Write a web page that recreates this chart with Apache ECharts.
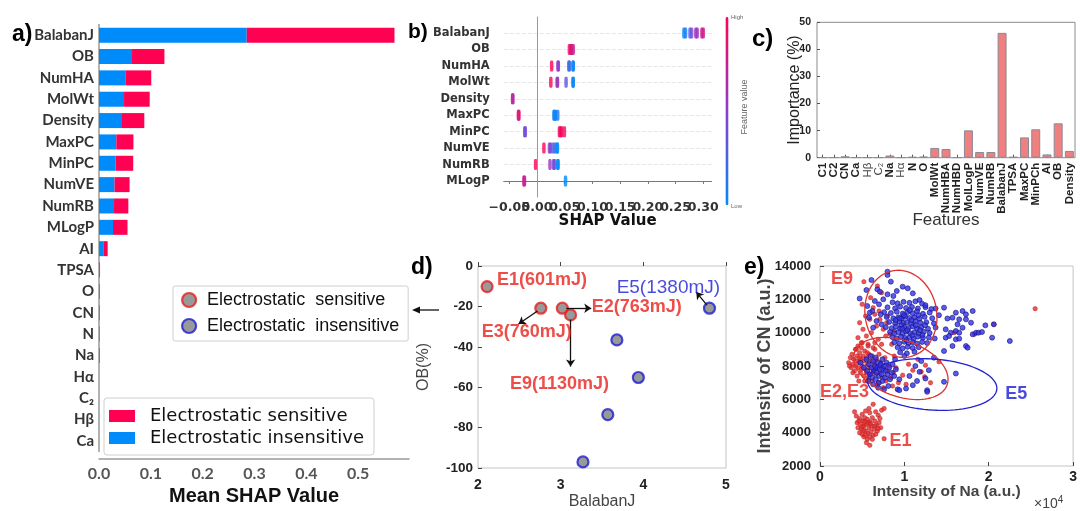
<!DOCTYPE html>
<html>
<head>
<meta charset="utf-8">
<script src="https://cdn.jsdelivr.net/npm/echarts@6/dist/echarts.min.js"></script>
<style>
  html, body { margin: 0; background: #fff; }
  #chart { width: 1080px; height: 511px; }
</style>
</head>
<body>
<div id="chart"></div>
<script>
// a) mean SHAP value, stacked by class
const aFeatures = ['BalabanJ', 'OB', 'NumHA', 'MolWt', 'Density', 'MaxPC', 'MinPC', 'NumVE', 'NumRB', 'MLogP',
  'AI', 'TPSA', 'O', 'CN', 'N', 'Na', 'Hα', 'C₂', 'Hβ', 'Ca'];
const aInsensitive = [0.285, 0.0637, 0.0508, 0.0483, 0.0444, 0.0334, 0.032, 0.030, 0.029, 0.027,
  0.0083, 0.001, 0.0012, 0.0012, 0.001, 0.0003, 0, 0, 0, 0];
const aSensitive = [0.285, 0.0625, 0.050, 0.0495, 0.043, 0.033, 0.034, 0.029, 0.0276, 0.028,
  0.0084, 0.001, 0.0003, 0.0002, 0.0002, 0.001, 0, 0, 0, 0];
const aTicks = [0, 0.1, 0.2, 0.3, 0.4, 0.5];

// b) SHAP summary, rows bottom -> top; points are [shap, row, feature value]
const bFeatures = ['MLogP', 'NumRB', 'NumVE', 'MinPC', 'MaxPC', 'Density', 'MolWt', 'NumHA', 'OB', 'BalabanJ'];
const bPoints = [
  [0.265, 9, 0.0], [0.268, 9, 0.1], [0.276, 9, 0.25], [0.279, 9, 0.4], [0.2865, 9, 0.55], [0.289, 9, 0.6], [0.2975, 9, 0.72], [0.300, 9, 0.8],
  [0.0585, 8, 0.95], [0.061, 8, 0.9], [0.063, 8, 0.85], [0.0655, 8, 0.75],
  [0.0265, 7, 1.0], [0.038, 7, 0.55], [0.0385, 7, 0.5], [0.0575, 7, 0.25], [0.0585, 7, 0.2], [0.065, 7, 0.0], [0.0655, 7, 0.05],
  [0.025, 6, 1.0], [0.0365, 6, 0.6], [0.037, 6, 0.55], [0.0525, 6, 0.35], [0.065, 6, 0.0], [0.0655, 6, 0.05],
  [-0.0435, 5, 0.6], [-0.044, 5, 0.7],
  [-0.0335, 4, 0.9], [-0.0325, 4, 0.85], [0.0305, 4, 0.1], [0.032, 4, 0.05], [0.0335, 4, 0.0], [0.0375, 4, 0.1],
  [-0.022, 3, 0.45], [-0.021, 3, 0.4], [0.0405, 3, 0.95], [0.0425, 3, 0.9], [0.0445, 3, 1.0], [0.0495, 3, 0.9],
  [0.0125, 2, 1.0], [0.0225, 2, 0.5], [0.0245, 2, 0.45], [0.029, 2, 0.3], [0.0325, 2, 0.2], [0.036, 2, 0.05], [0.037, 2, 0.0],
  [-0.0025, 1, 1.0], [0.0235, 1, 0.55], [0.030, 1, 0.45], [0.0315, 1, 0.4], [0.0375, 1, 0.05], [0.038, 1, 0.0],
  [-0.0235, 0, 0.8], [-0.0225, 0, 0.75], [0.0515, 0, 0.0]
];
const bTicks = [-0.05, 0, 0.05, 0.1, 0.15, 0.2, 0.25, 0.3];
const bTicksOdd = [-0.05, 0.05, 0.15, 0.25];
const bTicksEven = [0, 0.1, 0.2, 0.3];

// c) feature importance (%)
const cFeatures = ['C1', 'C2', 'CN', 'Ca', 'Hβ', 'C₂', 'Na', 'Hα', 'N', 'O', 'MolWt', 'NumHBA', 'NumHBD', 'MolLogP',
  'NumVE', 'NumRB', 'BalabanJ', 'TPSA', 'MaxPC', 'MinPCh', 'AI', 'OB', 'Density'];
const cImportance = [0.1, 0.1, 0.5, 0.1, 0.1, 0.1, 0.8, 0.1, 0.3, 0.4, 3.6, 3.2, 0.1, 10.1,
  2.1, 2.1, 46.1, 0.3, 7.5, 10.5, 1.2, 12.7, 2.5];

// d) OB vs BalabanJ
const dSensitive = [[2.11, -10.2], [2.76, -20.9], [3.02, -20.9], [3.12, -24.2]];
const dInsensitive = [[4.80, -20.9], [3.68, -36.6], [3.94, -55.2], [3.57, -73.6], [3.27, -97.0]];
const dNotesRed = [[2.23, -6.9, 'E1(601mJ)'], [3.375, -20.1, 'E2(763mJ)'], [2.045, -32.8, 'E3(760mJ)'], [2.387, -58.6, 'E9(1130mJ)']];
const dNotesBlue = [[3.677, -10.7, 'E5(1380mJ)']];
const dArrows = [
  [[2.72, -22.3], [2.49, -28.7]],
  [[3.07, -20.9], [3.37, -20.9]],
  [[3.12, -26.6], [3.12, -49.8]],
  [[4.77, -19.4], [4.64, -12.9]]
];

// e) CN vs Na intensity
const eRed = [
  // E1
  [4100, 5250], [6300, 5700], [7300, 5350], [6900, 5050], [7600, 5450], [4700, 4850], [5000, 5100], [5400, 5300], [5900, 5200],
  [4400, 4600], [4800, 4500], [5100, 4700], [5300, 4900], [5600, 4800], [5900, 4650], [6200, 4900], [6500, 4700], [6700, 4450],
  [7000, 4600], [4500, 4300], [4900, 4200], [5200, 4400], [5500, 4500], [5800, 4300], [6100, 4400], [6400, 4200], [6800, 4100],
  [7200, 4300], [4700, 4000], [5000, 3900], [5400, 4100], [5700, 3950], [6000, 4050], [6300, 3850], [6600, 3900], [5200, 3750],
  [5600, 3600], [5900, 3750], [6200, 3600], [5500, 3400], [5900, 3240], [7600, 3640], [5000, 4350], [5300, 4650], [5700, 4600],
  [6000, 4550], [4300, 5000], [6600, 5250], [7100, 4850], [5800, 5450], [4600, 4700], [5200, 4150], [6500, 4400], [6900, 4250], [5400, 3850],
  // E2, E3
  [3400, 8200], [3600, 8500], [3700, 7900], [3800, 8700], [3900, 8100], [4000, 8400], [4100, 7700], [4200, 9000], [4300, 8300],
  [4400, 8600], [4500, 7900], [4500, 9200], [4600, 8200], [4700, 8800], [4800, 7600], [4800, 8400], [4900, 9100], [5000, 8000],
  [5100, 8600], [5200, 7400], [5200, 8300], [5300, 8900], [5400, 7800], [5500, 8500], [5600, 8100], [5700, 9300], [5700, 7300],
  [5800, 8700], [5900, 7900], [6000, 8300], [6100, 7100], [6200, 8600], [6300, 7700], [6400, 8200], [6500, 9000], [6600, 7500],
  [6700, 8400], [6800, 7900], [6900, 7000], [7000, 8700], [7100, 7600], [7200, 8200], [7400, 7300], [7500, 7900], [7700, 8500],
  [7800, 7100], [8000, 7700], [8200, 8000], [8400, 7300], [8700, 7600], [9000, 7900], [4200, 8000], [4700, 8500], [5000, 9400],
  [5500, 7600], [6000, 7500], [6300, 9100], [3900, 7600], [4400, 7400], [5300, 7100], [6800, 6850], [7500, 6700], [8600, 6800],
  [5600, 8800], [4900, 7800], [6500, 8000], [5800, 8300], [3500, 8000], [4600, 7100],
  // E9
  [5200, 13060], [7300, 12400], [4700, 10600], [5100, 10200], [5500, 9800], [4900, 9400], [5900, 10800], [6500, 11100],
  [7100, 10800], [7500, 10200], [7800, 9800], [6900, 9600], [6100, 10000], [5700, 9200], [4300, 9000], [6300, 11500],
  [5400, 11000], [6700, 10400], [7900, 10600], [8300, 9900], [5000, 11700], [6000, 12100], [7000, 11300], [8000, 11000],
  [7300, 9300], [4500, 9700], [6500, 9400], [8500, 9300], [8800, 10100], [6800, 12800],
  // scattered
  [12000, 7650], [11000, 7750], [12500, 8050], [12400, 7350], [9800, 7450], [10500, 8100], [13100, 7000], [14100, 8250],
  [9300, 7000], [11600, 8400], [10200, 6900], [8800, 8600], [15900, 10000], [18300, 9900], [20600, 10500], [25500, 11440]
];
const eBlue = [
  // main cluster
  [8600, 11820], [9200, 11760], [9900, 11850], [10600, 11790], [11300, 11880], [12100, 11740],
  [8000, 11520], [8900, 11460], [9500, 11560], [10200, 11480], [10900, 11540], [11600, 11450], [12500, 11530], [13200, 11420],
  [7600, 11230], [8400, 11180], [9100, 11260], [9800, 11150], [10400, 11240], [11000, 11170], [11500, 11280], [12200, 11130], [13000, 11210],
  [7900, 10940], [8700, 10860], [9300, 10920], [9700, 10850], [10100, 10960], [10600, 10880], [11200, 10910], [11800, 10840], [12400, 10950], [13300, 10870],
  [8200, 10640], [8900, 10570], [9400, 10660], [9900, 10580], [10300, 10620], [10800, 10550], [11300, 10680], [11900, 10590], [12600, 10630], [13500, 10560],
  [7800, 10330], [8500, 10270], [9000, 10360], [9500, 10250], [10000, 10340], [10500, 10280], [11000, 10370], [11500, 10260], [12000, 10330], [12800, 10240], [13700, 10310],
  [8300, 10040], [8800, 9960], [9300, 10030], [9800, 9950], [10200, 10060], [10700, 9970], [11200, 10020], [11700, 9940], [12300, 10050], [13000, 9980],
  [8600, 9730], [9100, 9660], [9600, 9750], [10100, 9680], [10600, 9720], [11100, 9640], [11600, 9760], [12200, 9690], [12900, 9710], [13600, 9650],
  [8800, 9420], [9400, 9360], [10000, 9450], [10500, 9370], [11000, 9430], [11500, 9350], [12100, 9440], [12700, 9380],
  [9200, 9120], [9800, 9060], [10400, 9150], [11000, 9080], [11700, 9130], [9500, 8820], [10300, 8760], [11200, 8850],
  [9650, 10450], [10350, 10150], [10850, 10750], [11350, 10450], [9950, 11050], [10650, 11350], [11850, 10150], [12450, 10450],
  [9450, 10850], [10950, 9850], [8950, 10750], [11650, 11050], [12150, 9850], [10250, 9550], [9750, 10250],
  // upper left inside E9 ellipse
  [6500, 11900], [7000, 11700], [5600, 11600], [6200, 11300], [7200, 11100], [5800, 10900], [6700, 10700], [7500, 12000],
  [8700, 12200], [6800, 12600], [7300, 10500], [6300, 10300], [5900, 11200],
  // upper scatter
  [8000, 13660], [8000, 13460], [6100, 13160], [8400, 13060], [9800, 12760], [5500, 12560], [7100, 12460], [10400, 12660],
  [11000, 12360], [4700, 12050], [11800, 11960], [12500, 11650], [13700, 11450], [14100, 11050], [15100, 10850], [9100, 12500], [8000, 12300],
  // right scatter
  [14700, 11500], [15700, 10900], [16100, 11200], [16900, 11300], [17300, 11100], [18100, 11300], [16500, 10800], [17300, 10800],
  [17900, 10600], [16300, 10500], [16900, 10300], [15500, 10000], [16100, 10100], [16500, 10000], [14900, 10200], [14900, 9700],
  [15300, 9800], [16100, 9600], [16500, 9640], [18100, 9900], [18500, 10000], [18800, 10000], [19200, 10040], [19600, 10440],
  [20600, 10500], [20400, 9700], [22500, 9500], [17300, 9200], [17500, 9100], [15700, 9200], [14700, 8900],
  // lower cluster (with E2, E3)
  [4800, 8200], [5200, 7900], [5500, 8400], [5600, 7700], [5800, 8100], [5900, 7500], [6000, 8600], [6100, 7900], [6200, 7300],
  [6300, 8300], [6400, 7700], [6500, 8000], [6600, 7200], [6600, 8500], [6700, 7600], [6800, 7900], [6900, 8200], [7000, 7400],
  [7000, 7000], [7100, 7800], [7200, 8100], [7300, 7500], [7400, 8400], [7400, 7100], [7500, 7800], [7600, 8000], [7700, 7300],
  [7800, 7700], [7900, 8200], [8000, 7500], [8100, 6800], [8200, 7900], [8300, 7200], [8500, 7600], [8600, 8100], [8800, 7400],
  [9000, 7800], [9200, 6600], [9400, 7200], [6300, 6900], [5700, 7100], [7600, 6600], [8900, 8400], [6900, 6700],
  // lower scatter
  [9400, 6550], [10200, 6650], [11000, 6850], [12700, 6550], [12700, 6450], [14700, 7050], [16100, 7550], [11800, 7650],
  [12900, 7750], [12500, 7250], [10600, 7400], [11300, 8000], [12000, 8300], [13500, 8500], [10000, 8600], [11500, 7100]
];
// [centre Na, centre CN, half width (Na), half height (CN), tilt in degrees]
const eEllipsesRed = [[9590, 11130, 4240, 2630, 11], [9590, 7850, 5810, 1680, -19.5]];
const eEllipsesBlue = [[13300, 6890, 7680, 1530, -4]];
const eNotesRed = [[1290, 13220, 'E9'], [0, 6460, 'E2,E3'], [8240, 3500, 'E1']];
const eNotesBlue = [[21960, 6300, 'E5']];
const eTicksX = [0, 10000, 20000, 30000];

const NARROW = "Lato, 'Liberation Sans', sans-serif";
const ARIAL = "'Liberation Sans', Arial, sans-serif";
const DEJAVU = "'DejaVu Sans', sans-serif";
const RED = '#ff0052';
const BLUE = '#008bfb';
const NOTE_RED = '#e8221b';
const NOTE_BLUE = '#1b1bd6';

const chart = echarts.init(document.getElementById('chart'));

function shapLabel(v) {
  if (Math.abs(v) < 1e-9) return '0.00';
  return v < 0 ? '\u2212' + Math.abs(v).toFixed(2) : v.toFixed(2);
}

// two overlapping axes so the crowded tick labels are all drawn
function shapAxis(values, withLine) {
  return {
    gridIndex: 1, type: 'value', min: -0.06, max: 0.315, position: 'bottom',
    axisLine: { show: withLine, lineStyle: { color: '#777' } },
    axisTick: { show: withLine, customValues: bTicks, length: 3, lineStyle: { color: '#777' } },
    splitLine: { show: false },
    axisLabel: { customValues: values, formatter: shapLabel, showMinLabel: true, showMaxLabel: true, hideOverlap: false,
      fontFamily: DEJAVU, fontWeight: 'bold', fontSize: 12.5, color: '#333', margin: 4 }
  };
}

function ellipseSeries(list, color) {
  return {
    type: 'custom', xAxisIndex: 4, yAxisIndex: 4, data: list, silent: true, z: 5,
    renderItem: function (params, api) {
      const c = api.coord([api.value(0), api.value(1)]);
      const s = api.size([api.value(2), api.value(3)]);
      const a = api.value(4) * Math.PI / 180;
      const pts = [];
      for (let i = 0; i <= 90; i++) {
        const t = i / 90 * Math.PI * 2;
        const x = s[0] * Math.cos(t), y = s[1] * Math.sin(t);
        pts.push([c[0] + x * Math.cos(a) + y * Math.sin(a), c[1] - x * Math.sin(a) + y * Math.cos(a)]);
      }
      return { type: 'polyline', shape: { points: pts }, style: { fill: 'none', stroke: color, lineWidth: 1.3 } };
    }
  };
}

function noteSeries(xi, list, color, weight, size) {
  return {
    type: 'scatter', xAxisIndex: xi, yAxisIndex: xi, symbolSize: 0, silent: true, clip: false, z: 6,
    data: list.map(n => ({ value: [n[0], n[1]], name: n[2] })),
    label: {
      show: true, position: 'right', distance: 0, formatter: '{b}',
      color: color, fontFamily: ARIAL, fontWeight: weight, fontSize: size
    }
  };
}

const bMain = shapAxis(bTicksOdd, true);
bMain.name = 'SHAP Value';
bMain.nameLocation = 'middle';
bMain.nameGap = 16;
bMain.nameMoveOverlap = false;
bMain.nameTextStyle = { fontFamily: DEJAVU, fontWeight: 'bold', fontSize: 15, color: '#111' };

const option = {
  animation: false,
  grid: [
    { left: 99, top: 24.5, width: 310, height: 430 },
    { left: 503.7, top: 16.6, width: 207.9, height: 180.8 },
    { left: 817, top: 22.3, width: 258, height: 135.4, show: true, borderColor: '#8a8a8a', borderWidth: 1 },
    { left: 478, top: 266, width: 248, height: 202, show: true, borderColor: '#c4c4c4', borderWidth: 1 },
    { left: 820, top: 266, width: 255, height: 200, show: true, borderColor: '#c4c4c4', borderWidth: 1 }
  ],
  xAxis: [
    {
      gridIndex: 0, type: 'value', min: 0, max: 0.598, offset: 7.5,
      axisLine: { show: true, lineStyle: { color: '#999', width: 1.5 } },
      axisTick: { show: false }, splitLine: { show: false },
      axisLabel: { customValues: aTicks, formatter: v => v.toFixed(1), fontFamily: NARROW, fontWeight: 'bold', fontSize: 16, color: '#555', margin: 7 },
      name: 'Mean SHAP Value', nameLocation: 'middle', nameGap: 27, nameMoveOverlap: false,
      nameTextStyle: { fontFamily: ARIAL, fontWeight: 'bold', fontSize: 20, color: '#111' }
    },
    bMain,
    {
      gridIndex: 2, type: 'category', data: cFeatures,
      axisLine: { show: false },
      axisTick: { show: true, inside: true, length: 3, alignWithLabel: true, lineStyle: { color: '#555' } },
      axisLabel: {
        rotate: 90, interval: 0, margin: 5, fontFamily: ARIAL, fontWeight: 'bold', fontSize: 11.5, color: '#222',
        formatter: v => (v === 'Hβ' || v === 'Hα' || v === 'C₂') ? '{g|' + v + '}' : v,
        rich: { g: { fontFamily: ARIAL, fontWeight: 'normal', fontSize: 11.5, color: '#444' } }
      },
      name: 'Features', nameLocation: 'middle', nameGap: 54, nameMoveOverlap: false,
      nameTextStyle: { fontFamily: ARIAL, fontSize: 17, color: '#333' }
    },
    {
      gridIndex: 3, type: 'value', min: 2, max: 5, interval: 1,
      axisLine: { show: false },
      axisTick: { show: true, inside: true, length: 4, lineStyle: { color: '#444' } },
      splitLine: { show: false },
      axisLabel: { fontFamily: ARIAL, fontWeight: 'bold', fontSize: 14, color: '#222', margin: 10 },
      name: 'BalabanJ', nameLocation: 'middle', nameGap: 26, nameMoveOverlap: false,
      nameTextStyle: { fontFamily: ARIAL, fontSize: 16, color: '#444' }
    },
    {
      gridIndex: 4, type: 'value', min: 0, max: 30000, interval: 10000,
      axisLine: { show: false },
      axisTick: { show: true, inside: true, length: 4, lineStyle: { color: '#444' } },
      splitLine: { show: false },
      axisLabel: { customValues: eTicksX, formatter: v => String(v / 10000), fontFamily: ARIAL, fontWeight: 'bold', fontSize: 14, color: '#222', margin: 4 },
      name: 'Intensity of Na (a.u.)', nameLocation: 'middle', nameGap: 18, nameMoveOverlap: false,
      nameTextStyle: { fontFamily: ARIAL, fontWeight: 'bold', fontSize: 15.5, color: '#444' }
    },
    shapAxis(bTicksEven, false)
  ],
  yAxis: [
    {
      gridIndex: 0, type: 'category', inverse: true, data: aFeatures,
      axisLine: { show: true, lineStyle: { color: '#999', width: 1.5 } },
      axisTick: { show: false },
      axisLabel: { interval: 0, margin: 5, fontFamily: NARROW, fontWeight: 'bold', fontSize: 15, color: '#333' }
    },
    {
      gridIndex: 1, type: 'value', min: -1, max: 10, interval: 1,
      axisLine: { show: false }, axisTick: { show: false },
      splitLine: { show: true, showMinLine: false, showMaxLine: false, lineStyle: { color: '#e6e6e6', type: 'dashed' } },
      axisLabel: { formatter: v => bFeatures[v] || '', margin: 14, fontFamily: DEJAVU, fontWeight: 'bold', fontSize: 11.5, color: '#333' }
    },
    {
      gridIndex: 2, type: 'value', min: 0, max: 50, interval: 10,
      axisLine: { show: false },
      axisTick: { show: true, inside: true, length: 3, lineStyle: { color: '#555' } },
      splitLine: { show: false },
      axisLabel: { margin: 6, fontFamily: ARIAL, fontWeight: 'bold', fontSize: 10.5, color: '#222' },
      name: 'Importance (%)', nameLocation: 'middle', nameGap: 14, nameMoveOverlap: false,
      nameTextStyle: { fontFamily: ARIAL, fontSize: 16, color: '#222' }
    },
    {
      gridIndex: 3, type: 'value', min: -100, max: 0, interval: 20,
      axisLine: { show: false },
      axisTick: { show: true, inside: true, length: 4, lineStyle: { color: '#444' } },
      splitLine: { show: false },
      axisLabel: { margin: 5, fontFamily: ARIAL, fontWeight: 'bold', fontSize: 13.5, color: '#222' },
      name: 'OB(%)', nameLocation: 'middle', nameGap: 46, nameMoveOverlap: false,
      nameTextStyle: { fontFamily: ARIAL, fontSize: 16, color: '#444' }
    },
    {
      gridIndex: 4, type: 'value', min: 2000, max: 14000, interval: 2000,
      axisLine: { show: false },
      axisTick: { show: true, inside: true, length: 4, lineStyle: { color: '#444' } },
      splitLine: { show: false },
      axisLabel: { formatter: v => String(v), margin: 9, fontFamily: ARIAL, fontWeight: 'bold', fontSize: 13, color: '#222' },
      name: 'Intensity of CN (a.u.)', nameLocation: 'middle', nameGap: 46, nameMoveOverlap: false,
      nameTextStyle: { fontFamily: ARIAL, fontWeight: 'bold', fontSize: 18, color: '#444' }
    }
  ],
  legend: [
    {
      data: ['Electrostatic sensitive', 'Electrostatic insensitive'], selectedMode: false,
      orient: 'vertical', left: 104, top: 398, padding: [9, 10, 8, 5], itemGap: 4,
      itemWidth: 26, itemHeight: 12, icon: 'rect',
      borderColor: '#cfcfcf', borderWidth: 1, borderRadius: 3, backgroundColor: '#fff',
      textStyle: { fontFamily: DEJAVU, fontSize: 18, color: '#111', padding: [0, 0, 0, 10] }
    },
    {
      data: ['Electrostatic  sensitive', 'Electrostatic  insensitive'], selectedMode: false,
      orient: 'vertical', left: 173, top: 286, padding: [5, 9, 6, 8], itemGap: 8,
      itemWidth: 14, itemHeight: 14, itemStyle: { borderWidth: 2.2 },
      borderColor: '#cfcfcf', borderWidth: 1, borderRadius: 2, backgroundColor: '#fff',
      textStyle: { fontFamily: ARIAL, fontSize: 18, color: '#111', padding: [0, 0, 0, 6] }
    }
  ],
  visualMap: [{
    type: 'continuous', seriesIndex: 2, dimension: 2, min: 0, max: 1,
    left: 725.5, top: 17, itemWidth: 3, itemHeight: 188, padding: 0, calculable: false, hoverLink: false,
    inRange: { color: [BLUE, '#8b3dd0', RED] }
  }],
  series: [
    { type: 'bar', name: 'Electrostatic insensitive', xAxisIndex: 0, yAxisIndex: 0, stack: 'a', barWidth: 15, data: aInsensitive, itemStyle: { color: BLUE } },
    { type: 'bar', name: 'Electrostatic sensitive', xAxisIndex: 0, yAxisIndex: 0, stack: 'a', barWidth: 15, data: aSensitive, itemStyle: { color: RED } },
    { type: 'scatter', xAxisIndex: 1, yAxisIndex: 1, data: bPoints, symbol: 'roundRect', symbolSize: [3.5, 11],
      markLine: { silent: true, symbol: 'none', label: { show: false }, lineStyle: { color: '#999', width: 1, type: 'solid' }, data: [{ xAxis: 0 }] } },
    { type: 'bar', xAxisIndex: 2, yAxisIndex: 2, data: cImportance, barWidth: '80%',
      itemStyle: { color: '#f08080', borderColor: '#8a8a96', borderWidth: 1 } },
    { type: 'scatter', name: 'Electrostatic  sensitive', xAxisIndex: 3, yAxisIndex: 3, data: dSensitive, symbolSize: 11,
      itemStyle: { color: '#808080', borderColor: '#e61e1e', borderWidth: 2.2 },
      markLine: {
        silent: true, symbol: ['none', 'arrow'], symbolSize: 7, label: { show: false },
        lineStyle: { color: '#111', width: 1.3, type: 'solid' },
        data: dArrows.map(a => [{ coord: a[0] }, { coord: a[1] }])
      } },
    { type: 'scatter', name: 'Electrostatic  insensitive', xAxisIndex: 3, yAxisIndex: 3, data: dInsensitive, symbolSize: 11,
      itemStyle: { color: '#808080', borderColor: '#1e1ed2', borderWidth: 2.2 } },
    noteSeries(3, dNotesRed, NOTE_RED, 'bold', 18),
    noteSeries(3, dNotesBlue, NOTE_BLUE, 'normal', 19),
    { type: 'scatter', xAxisIndex: 4, yAxisIndex: 4, data: eRed, symbolSize: 4.5,
      itemStyle: { color: '#e62a2a', borderColor: '#b01c1c', borderWidth: 0.5 } },
    { type: 'scatter', xAxisIndex: 4, yAxisIndex: 4, data: eBlue, symbolSize: 5,
      itemStyle: { color: '#3232ea', borderColor: '#14147e', borderWidth: 0.8 } },
    ellipseSeries(eEllipsesRed, '#e03030'),
    ellipseSeries(eEllipsesBlue, '#2222d0'),
    noteSeries(4, eNotesRed, NOTE_RED, 'bold', 18),
    noteSeries(4, eNotesBlue, NOTE_BLUE, 'bold', 18)
  ],
  graphic: [
    { type: 'text', left: 12, top: 23, style: { text: 'a)', fontFamily: ARIAL, fontWeight: 'bold', fontSize: 23, fill: '#000' } },
    { type: 'text', left: 408, top: 22, style: { text: 'b)', fontFamily: ARIAL, fontWeight: 'bold', fontSize: 21, fill: '#000' } },
    { type: 'text', left: 752, top: 27, style: { text: 'c)', fontFamily: ARIAL, fontWeight: 'bold', fontSize: 24, fill: '#000' } },
    { type: 'text', left: 411, top: 256, style: { text: 'd)', fontFamily: ARIAL, fontWeight: 'bold', fontSize: 23, fill: '#000' } },
    { type: 'text', left: 744, top: 256, style: { text: 'e)', fontFamily: ARIAL, fontWeight: 'bold', fontSize: 23, fill: '#000' } },
    { type: 'text', left: 731, top: 14, style: { text: 'High', fontFamily: ARIAL, fontSize: 6, fill: '#666' } },
    { type: 'text', left: 731, top: 203, style: { text: 'Low', fontFamily: ARIAL, fontSize: 6, fill: '#666' } },
    { type: 'text', x: 745, y: 107, rotation: Math.PI / 2,
      style: { text: 'Feature value', fontFamily: ARIAL, fontSize: 9, fill: '#666', align: 'center', verticalAlign: 'middle' } },
    { type: 'text', left: 1034, top: 495,
      style: { text: '×10{s|4}', fontFamily: ARIAL, fontSize: 14, fill: '#444', rich: { s: { fontSize: 10, verticalAlign: 'top', fill: '#444', padding: [0, 0, 8, 0] } } } },
    { type: 'line', shape: { x1: 439, y1: 310, x2: 418, y2: 310 }, style: { stroke: '#111', lineWidth: 1.3 } },
    { type: 'polygon', shape: { points: [[412, 310], [420, 306.5], [420, 313.5]] }, style: { fill: '#111' } }
  ]
};

chart.setOption(option);
</script>
</body>
</html>
